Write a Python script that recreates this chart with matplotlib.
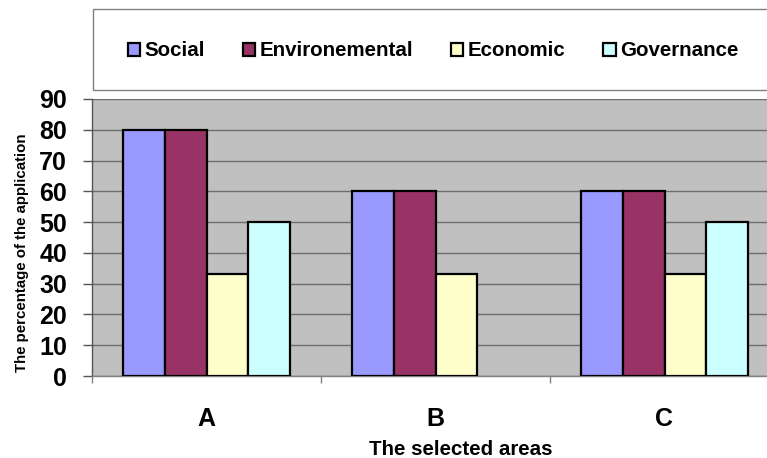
import matplotlib
matplotlib.use("Agg")
import matplotlib.pyplot as plt
from matplotlib.patches import Rectangle
import numpy as np

categories = ["A", "B", "C"]
series_names = ["Social", "Environemental", "Economic", "Governance"]
social = [80, 60, 60]
environmental = [80, 60, 60]
economic = [33.3, 33.3, 33.3]
governance = [50, None, 50]
colors = ["#9999FF", "#993366", "#FFFFCC", "#CCFFFF"]
y_ticks = [0, 10, 20, 30, 40, 50, 60, 70, 80, 90]

plt.rcParams['font.family'] = ['Liberation Sans', 'DejaVu Sans']
plt.rcParams['font.weight'] = 'bold'

W, H = 767, 458
fig = plt.figure(figsize=(W / 100, H / 100), dpi=100)

# legend box
fig.patches.append(Rectangle((93 / W, 1 - 90 / H), 1.0, 81 / H, transform=fig.transFigure,
                             facecolor='white', edgecolor='#808080', linewidth=1.0, zorder=0))

ax = fig.add_axes([92 / W, (H - 376) / H, (779 - 92) / W, (376 - 99) / H])
ax.set_facecolor('#C0C0C0')

data = [social, environmental, economic, governance]
x = np.arange(len(categories))
bw = 0.1834
handles = []
for j, (vals, col, name) in enumerate(zip(data, colors, series_names)):
    xs = [xi + (j - 1.5) * bw for xi, v in zip(x, vals) if v is not None]
    hs = [v for v in vals if v is not None]
    b = ax.bar(xs, hs, width=bw, color=col, edgecolor='black', linewidth=1.6, label=name, zorder=3)
    handles.append(b)

ax.set_xlim(-0.5, len(categories) - 0.5)
ax.set_ylim(0, 90)
ax.set_yticks(y_ticks)
ax.set_yticklabels([str(t) for t in y_ticks], fontsize=18, fontweight='bold')
ax.yaxis.grid(True, color='#6e6e6e', linewidth=1.0, zorder=1)
ax.set_axisbelow(True)

ax.set_xticks(x)
ax.set_xticklabels(categories, fontsize=18, fontweight='bold')
ax.set_xticks(np.arange(-0.5, len(categories)), minor=True)
ax.tick_params(axis='x', which='major', length=0, pad=22)
ax.tick_params(axis='x', which='minor', length=5, width=1, color='#808080', direction='out')
ax.tick_params(axis='y', length=6.5, width=1, color='#555555', direction='out', pad=11.5)

for s in ['top', 'right']:
    ax.spines[s].set_visible(False)
ax.spines['left'].set_color('#555555')
ax.spines['bottom'].set_color('#808080')
for s in ['left', 'bottom']:
    ax.spines[s].set_linewidth(1.0)

fig.text(22 / W, 1 - 253 / H, "The percentage of the application", rotation=90,
         ha='center', va='center', fontsize=10.8, fontweight='bold')
fig.text(461 / W, 1 - 455 / H, "The selected areas", ha='center', va='baseline',
         fontsize=14.8, fontweight='bold')

fig.legend(handles=handles, labels=series_names, loc='center left',
           bbox_to_anchor=(128 / W, 1 - 51 / H), ncol=4, frameon=False,
           prop={'size': 14.8, 'weight': 'bold'}, handlelength=0.6, handleheight=0.6,
           handletextpad=0.2, columnspacing=1.85, borderpad=0, borderaxespad=0)

fig.savefig("out.png", dpi=100)
